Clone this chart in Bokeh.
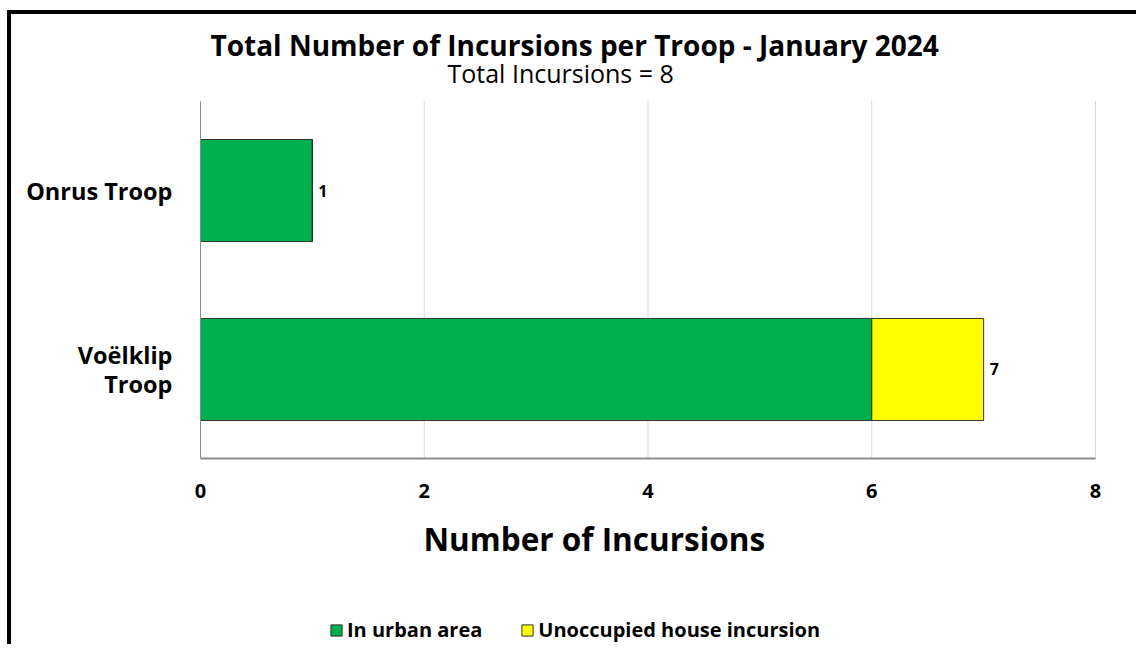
from bokeh.plotting import figure
from bokeh.models import ColumnDataSource, Title, Legend, LegendItem, FixedTicker, Range1d, Label
from bokeh.core.properties import value
from bokeh.embed import file_html
from bokeh.resources import INLINE

troops = ["Voëlklip\nTroop", "Onrus Troop"]
in_urban = [6, 1]
unoccupied = [1, 0]
totals = [7, 1]
x_ticks = [0, 2, 4, 6, 8]
title_text = "Total Number of Incursions per Troop -  January 2024"
subtitle_text = "Total Incursions = 8"
x_label_text = "Number of Incursions"
series_names = ["In urban area", "Unoccupied house incursion"]
series_colors = ["#00B050", "#FFFF00"]

FONT = "Open Sans"

pos = list(range(len(troops)))          # category positions on the y scale
band_lo, band_hi = pos[0] - 0.5, pos[-1] + 0.5

src = ColumnDataSource(dict(pos=pos, urban=in_urban, unocc=unoccupied,
                            total=totals, total_lbl=[str(t) for t in totals]))

# frame covers the whole canvas; axes are placed at fixed data locations inside it
p = figure(width=1129, height=634, y_range=Range1d(band_lo - 1.059, band_hi + 0.003),
           x_range=Range1d(x_ticks[0] - 1.689, x_ticks[-1] + 0.402),
           output_backend="svg", toolbar_location=None,
           min_border_left=0, min_border_right=0, min_border_top=86, min_border_bottom=0)
p.styles = {"margin-left": "7px", "margin-top": "10px",
            "border-top": "4px solid black", "border-left": "4px solid black"}

# vertical grid lines, limited to the category band area
p.xgrid.visible = False
p.ygrid.visible = False
p.segment(x0=x_ticks[1:], x1=x_ticks[1:], y0=[band_lo] * 4, y1=[band_hi] * 4,
          line_color="#D9D9D9", line_width=1)

renderers = p.hbar_stack(["urban", "unocc"], y="pos", height=0.57, color=series_colors,
                         line_color="#333333", line_width=1, source=src)

p.text(x="total", y="pos", text="total_lbl", source=src, x_offset=6,
       text_font=value(FONT), text_font_style="bold", text_font_size="16px",
       text_baseline="middle", text_align="left", text_color="black")

# titles
sub = Title(text=subtitle_text, align="left", offset=436, vertical_align="middle",
            text_font=FONT, text_font_size="25px",
            text_font_style="normal", text_color="black", standoff=20)
main = Title(text=title_text, align="left", offset=199, text_font=FONT, text_font_size="28px",
             text_font_style="bold", text_color="black", standoff=-38)
p.title = None
p.add_layout(sub, "above")
p.add_layout(main, "above")

# x axis at the bottom of the category band
p.xaxis.fixed_location = band_lo
p.xaxis.bounds = (x_ticks[0], x_ticks[-1])
p.xaxis.ticker = FixedTicker(ticks=x_ticks)
p.xaxis.major_label_text_font = FONT
p.xaxis.major_label_text_font_size = "20px"
p.xaxis.major_label_text_font_style = "bold"
p.xaxis.major_label_text_color = "black"
p.xaxis.major_label_standoff = 19
p.xaxis.axis_line_color = "#8C8C8C"
p.xaxis.axis_line_width = 2
p.xaxis.major_tick_line_color = None
p.xaxis.minor_tick_line_color = None

p.add_layout(Label(x=3.52, y=band_lo - 0.444, text=x_label_text, text_align="center",
                   text_baseline="middle", text_font=FONT, text_font_size="31.5px",
                   text_font_style="bold", text_color="black"))

# y axis with the troop names, at x = 0
p.yaxis.fixed_location = x_ticks[0]
p.yaxis.ticker = FixedTicker(ticks=pos)
p.yaxis.major_label_overrides = {pos[i]: troops[i] for i in range(len(troops))}
p.yaxis.bounds = (band_lo, band_hi)
p.yaxis.major_label_text_font = FONT
p.yaxis.major_label_text_font_size = "23.5px"
p.yaxis.major_label_text_font_style = "bold"
p.yaxis.major_label_text_color = "black"
p.yaxis.major_label_text_line_height = 0.9
p.yaxis.major_label_standoff = 22
p.yaxis.axis_line_color = "#8C8C8C"
p.yaxis.axis_line_width = 1
p.yaxis.major_tick_line_color = None
p.yaxis.minor_tick_line_color = None

p.outline_line_color = None

legend = Legend(items=[LegendItem(label=series_names[i], renderers=[renderers[i]]) for i in range(2)],
                orientation="horizontal", location=(318, 5),
                label_text_font=FONT, label_text_font_size="20px", label_text_font_style="bold",
                label_text_color="black", glyph_width=14, glyph_height=14, spacing=38,
                border_line_color=None, background_fill_alpha=0, label_standoff=4, padding=5)
p.add_layout(legend, "center")

open("out.html", "w").write(file_html(p, INLINE))
